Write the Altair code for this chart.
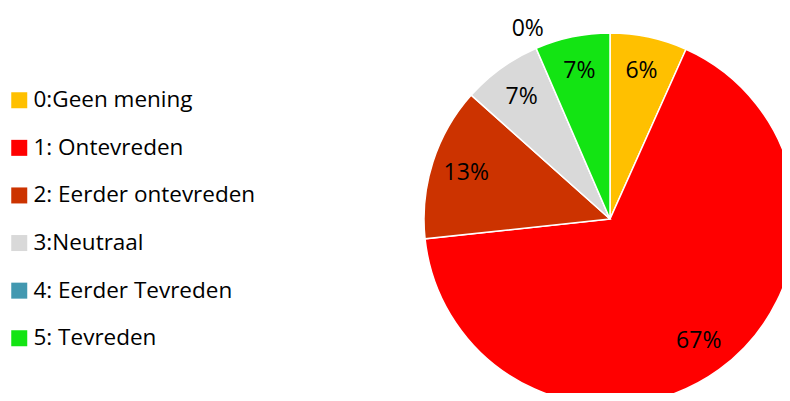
import altair as alt
import pandas as pd

categories = ["0:Geen mening", "1: Ontevreden", "2: Eerder ontevreden",
              "3:Neutraal", "4: Eerder Tevreden", "5: Tevreden"]
shares = [6.7, 66.6, 13.3, 6.9, 0.0, 6.5]
labels = ["6%", "67%", "13%", "7%", "0%", "7%"]
colors = ["#FFC000", "#FF0000", "#CC3300", "#D9D9D9", "#4298B0", "#13E413"]

df = pd.DataFrame({"cat": categories, "share": shares, "label": labels,
                   "order": list(range(len(categories)))})

CX, CY, R = 602, 211, 186
FONT = "Open Sans"

arcs = alt.Chart(df).mark_arc(outerRadius=R, stroke="white", strokeWidth=1.5).encode(
    theta=alt.Theta("share:Q", stack=True),
    order=alt.Order("order:Q"),
    x=alt.value(CX), y=alt.value(CY),
    color=alt.Color(
        "cat:N",
        scale=alt.Scale(domain=categories, range=colors),
        sort=categories,
        legend=alt.Legend(
            title=None, orient="none", legendX=0, legendY=81,
            symbolType="square", symbolSize=256, symbolStrokeWidth=0,
            labelFont=FONT, labelFontSize=22.5, labelColor="black",
            labelOffset=3, rowPadding=24.6, padding=0, labelLimit=400,
        ),
    ),
)

texts = alt.Chart(df).mark_text(font=FONT, fontSize=23, color="black").transform_window(
    cum="sum(share)", sort=[alt.SortField("order")], frame=[None, 0]
).transform_calculate(
    mid="datum.cum - datum.share / 2",
    lr="datum.share > 0 ? 151 : 207",
).encode(
    theta=alt.Theta("mid:Q", stack=False),
    x=alt.value(CX), y=alt.value(CY),
    radius=alt.Radius("lr:Q", scale=None),
    text="label:N",
)

chart = alt.layer(arcs, texts).properties(
    width=774, height=385, autosize=alt.AutoSizeParams(type="none"), padding=0,
    background="white",
).configure_view(stroke=None)

chart.save("out.html", embed_options={"renderer": "svg", "actions": False})
